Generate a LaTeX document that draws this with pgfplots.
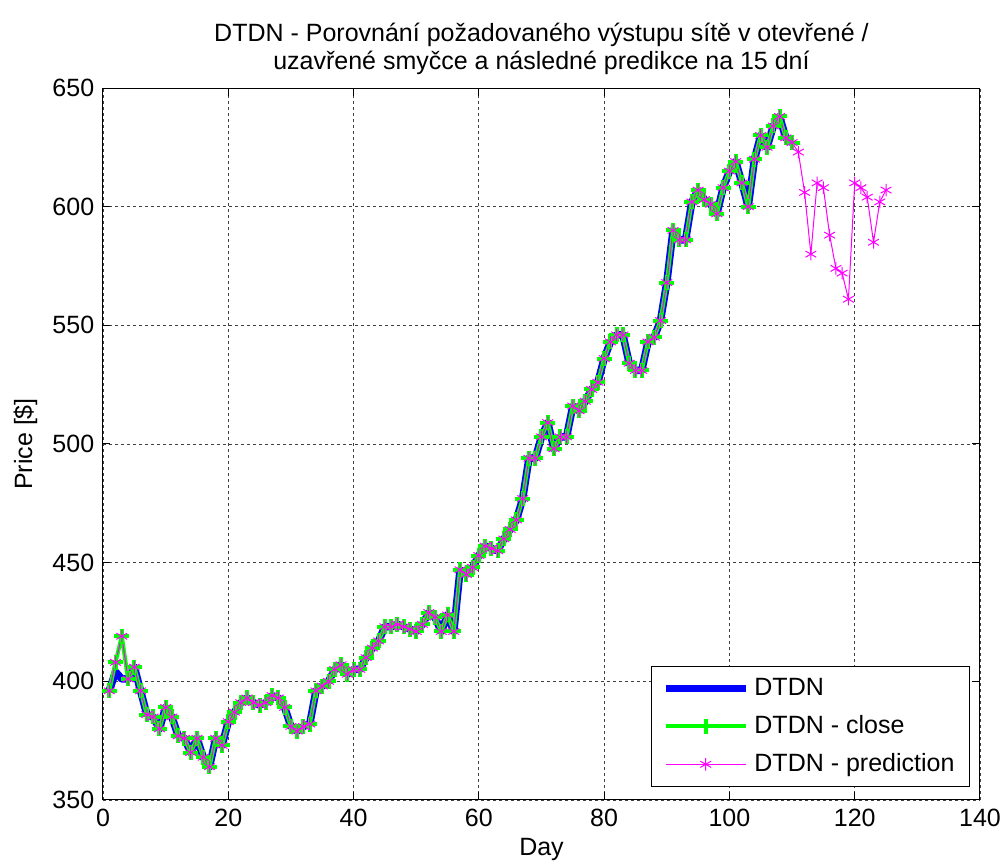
\documentclass[border=0pt]{standalone}
\usepackage{fontspec}
\setmainfont{Liberation Sans}
\usepackage{pgfplots}
\pgfplotsset{compat=1.18}
\definecolor{mblue}{rgb}{0,0,1}
\definecolor{mgreen}{rgb}{0,1,0}
\definecolor{mmag}{rgb}{1,0,1}
\begin{document}
\begin{tikzpicture}
\useasboundingbox (-41.2pt,-26pt) rectangle (361.6pt,320pt);
\begin{axis}[
  scale only axis, width=350.8pt, height=284.8pt,
  xmin=0, xmax=140, ymin=350, ymax=650,
  xtick={0,20,...,140}, ytick={350,400,...,650},
  grid=major,
  major grid style={black!75, dash pattern=on 1.2pt off 1.2pt, line width=0.35pt},
  tick align=inside, major tick length=3pt,
  tick style={black, line width=0.4pt},
  axis line style={black, line width=0.4pt},
  /pgf/number format/assume math mode=true,
  /pgf/number format/1000 sep={},
  ticklabel style={font=\fontsize{10}{11}\selectfont},
  title style={font=\fontsize{10}{11.2}\selectfont, align=center, at={(axis description cs:0.5,1.0337)}, anchor=center},
  title={DTDN - Porovnání požadovaného výstupu sítě v otevřené /\\uzavřené smyčce a následné predikce na 15 dní},
  xlabel={Day}, ylabel={Price [\$]},
  xlabel style={font=\fontsize{10}{11}\selectfont, at={(axis description cs:0.5,-0.0702)}, anchor=center},
  ylabel style={font=\fontsize{10}{11}\selectfont, at={(axis description cs:-0.0884,0.5)}, anchor=center},
  legend style={at={(axis description cs:1,0)}, anchor=south east, xshift=-4pt, yshift=5.2pt,
    draw=black, line width=0.4pt, font=\fontsize{10}{11}\selectfont,
    inner xsep=4pt, inner ysep=2.5pt, row sep=2.5pt, cells={anchor=west}},
  legend cell align=left,
  legend image code/.code={\draw[mark repeat=2,mark phase=2,#1] plot coordinates {(0pt,0pt) (16pt,0pt) (32pt,0pt)};},
]
\addplot[mblue, line width=3pt, line join=round, no marks] coordinates {
(1,396)(2,404)(3,401)(4,401)(5,406)(6,396)(7,386)(8,385)(9,380)(10,389)
(11,385)(12,377)(13,376)(14,370)(15,376)(16,368)(17,364)(18,376)(19,373)(20,383)
(21,387)(22,391)(23,393)(24,391)(25,390)(26,391)(27,394)(28,393)(29,389)(30,381)
(31,379)(32,381)(33,382)(34,396)(35,398)(36,400)(37,405)(38,407)(39,403)(40,405)
(41,405)(42,410)(43,414)(44,417)(45,423)(46,423)(47,424)(48,423)(49,422)(50,421)
(51,424)(52,429)(53,427)(54,421)(55,428)(56,421)(57,447)(58,445)(59,448)(60,453)
(61,457)(62,456)(63,455)(64,460)(65,464)(66,468)(67,477)(68,494)(69,494)(70,503)
(71,509)(72,498)(73,503)(74,503)(75,516)(76,514)(77,518)(78,523)(79,526)(80,536)
(81,543)(82,546)(83,546)(84,534)(85,531)(86,531)(87,543)(88,545)(89,552)(90,568)
(91,590)(92,586)(93,586)(94,602)(95,607)(96,603)(97,601)(98,597)(99,608)(100,615)
(101,619)(102,610)(103,600)(104,620)(105,630)(106,625)(107,634)(108,638)(109,629)(110,627)
};
\addlegendentry{DTDN}
\addplot[mgreen, line width=1.6pt, line join=round, mark=+, mark size=3pt, mark options={line width=1.6pt}] coordinates {
(1,396)(2,408)(3,419)(4,401)(5,406)(6,396)(7,386)(8,385)(9,380)(10,389)
(11,385)(12,377)(13,376)(14,370)(15,376)(16,368)(17,364)(18,376)(19,373)(20,383)
(21,387)(22,391)(23,393)(24,391)(25,390)(26,391)(27,394)(28,393)(29,389)(30,381)
(31,379)(32,381)(33,382)(34,396)(35,398)(36,400)(37,405)(38,407)(39,403)(40,405)
(41,405)(42,410)(43,414)(44,417)(45,423)(46,423)(47,424)(48,423)(49,422)(50,421)
(51,424)(52,429)(53,427)(54,421)(55,428)(56,421)(57,447)(58,445)(59,448)(60,453)
(61,457)(62,456)(63,455)(64,460)(65,464)(66,468)(67,477)(68,494)(69,494)(70,503)
(71,509)(72,498)(73,503)(74,503)(75,516)(76,514)(77,518)(78,523)(79,526)(80,536)
(81,543)(82,546)(83,546)(84,534)(85,531)(86,531)(87,543)(88,545)(89,552)(90,568)
(91,590)(92,586)(93,586)(94,602)(95,607)(96,603)(97,601)(98,597)(99,608)(100,615)
(101,619)(102,610)(103,600)(104,620)(105,630)(106,625)(107,634)(108,638)(109,629)(110,627)
};
\addlegendentry{DTDN - close}
\addplot[mmag, line width=0.4pt, mark=asterisk, mark size=2.5pt, mark options={line width=0.4pt}] coordinates {
(1,396)(2,408)(3,419)(4,401)(5,406)(6,396)(7,386)(8,385)(9,380)(10,389)
(11,385)(12,377)(13,376)(14,370)(15,376)(16,368)(17,364)(18,376)(19,373)(20,383)
(21,387)(22,391)(23,393)(24,391)(25,390)(26,391)(27,394)(28,393)(29,389)(30,381)
(31,379)(32,381)(33,382)(34,396)(35,398)(36,400)(37,405)(38,407)(39,403)(40,405)
(41,405)(42,410)(43,414)(44,417)(45,423)(46,423)(47,424)(48,423)(49,422)(50,421)
(51,424)(52,429)(53,427)(54,421)(55,428)(56,421)(57,447)(58,445)(59,448)(60,453)
(61,457)(62,456)(63,455)(64,460)(65,464)(66,468)(67,477)(68,494)(69,494)(70,503)
(71,509)(72,498)(73,503)(74,503)(75,516)(76,514)(77,518)(78,523)(79,526)(80,536)
(81,543)(82,546)(83,546)(84,534)(85,531)(86,531)(87,543)(88,545)(89,552)(90,568)
(91,590)(92,586)(93,586)(94,602)(95,607)(96,603)(97,601)(98,597)(99,608)(100,615)
(101,619)(102,610)(103,600)(104,620)(105,630)(106,625)(107,634)(108,638)(109,629)(110,627)
(111,623)(112,606)(113,580)(114,610)(115,608)(116,588)(117,574)(118,572)(119,561)(120,610)
(121,608)(122,604)(123,585)(124,602)(125,607)
};
\addlegendentry{DTDN - prediction}
\end{axis}
\end{tikzpicture}
\end{document}
